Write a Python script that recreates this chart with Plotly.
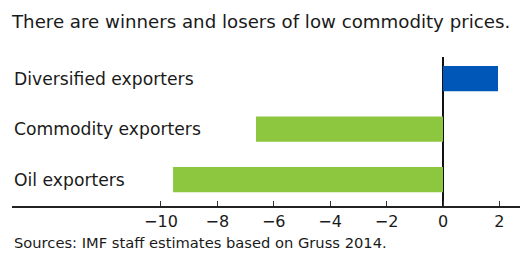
import plotly.graph_objects as go

categories = ["Oil exporters", "Commodity exporters", "Diversified exporters"]
values = [-9.57, -6.63, 1.95]
bar_colors = ["#8DC63F", "#8DC63F", "#0057B8"]
tick_values = [-10, -8, -6, -4, -2, 0, 2]
title_text = "There are winners and losers of low commodity prices."
source_text = "Sources: IMF staff estimates based on Gruss 2014."

FONT = "DejaVu Sans"
W, H = 520, 256
L, R, T, B = 12, 0, 57, 256 - 206
PH = H - T - B

fig = go.Figure(
    go.Bar(
        y=categories,
        x=values,
        orientation="h",
        width=0.5,
        marker=dict(color=bar_colors, line=dict(width=0)),
        hoverinfo="skip",
    )
)

for c in categories:
    fig.add_annotation(
        x=0, xref="paper", xanchor="left",
        y=c, yref="y", yanchor="middle",
        text=c, showarrow=False,
        font=dict(family=FONT, size=17.2, color="#1a1a1a"),
    )

fig.update_layout(
    width=W, height=H,
    margin=dict(l=L, r=R, t=T, b=B, pad=0),
    paper_bgcolor="white", plot_bgcolor="white",
    showlegend=False,
    title=dict(
        text=title_text, x=L / W, xanchor="left",
        y=1 - 22 / H, yanchor="middle", yref="container",
        font=dict(family=FONT, size=18.2, color="#1a1a1a"),
    ),
    font=dict(family=FONT, size=16, color="#1a1a1a"),
    xaxis=dict(
        range=[-15.28, 2.73],
        tickvals=tick_values,
        ticks="inside", ticklen=5, tickwidth=1, tickcolor="#333",
        showline=True, linecolor="#222", linewidth=1.5,
        zeroline=True, zerolinecolor="#111", zerolinewidth=1.5,
        showgrid=False, fixedrange=True,
        tickfont=dict(family=FONT, size=16, color="#1a1a1a"),
    ),
    yaxis=dict(
        categoryorder="array", categoryarray=categories,
        range=[-0.52, 2.43],
        showticklabels=False, showgrid=False, zeroline=False,
        showline=False, ticks="", fixedrange=True,
    ),
)

fig.add_annotation(
    x=0, xref="paper", xanchor="left",
    y=-(242 - 206) / PH, yref="paper", yanchor="middle",
    text=source_text, showarrow=False,
    font=dict(family=FONT, size=14.7, color="#1a1a1a"),
)

fig.write_html(
    "out.html",
    config={"displayModeBar": False, "staticPlot": True},
    post_script="document.body.style.margin='0';document.body.style.overflow='hidden';",
)
